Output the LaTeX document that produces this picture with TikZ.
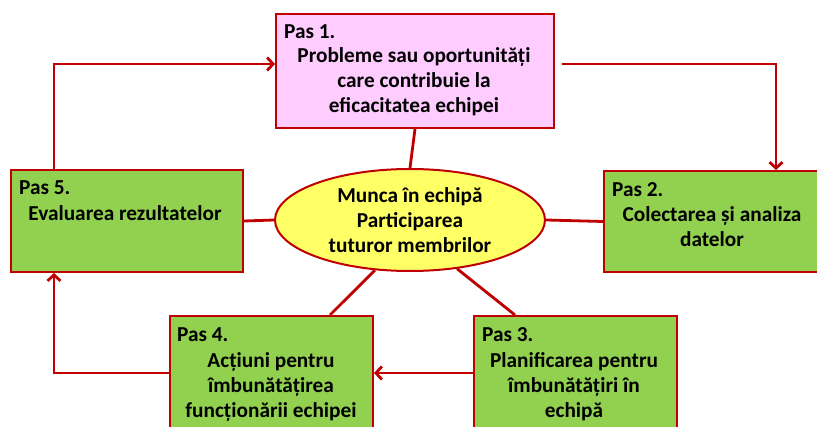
\documentclass[tikz,border=0pt]{standalone}
\usepackage{fontspec}
\setmainfont{Carlito}
\usetikzlibrary{shapes.geometric,arrows.meta,calc}
\definecolor{dred}{HTML}{C00000}
\definecolor{lgreen}{HTML}{92D050}
\definecolor{lpink}{HTML}{FFCCFF}
\definecolor{lyellow}{HTML}{FFFF66}
\tikzset{
  boxstyle/.style={draw=dred, line width=2pt, rectangle, anchor=north west, inner sep=0pt},
  greenbox/.style={boxstyle, fill=lgreen},
  pinkbox/.style={boxstyle, fill=lpink},
  txt/.style={font=\fontsize{21.3}{25}\selectfont\bfseries, text=black, align=center, inner sep=0pt},
  ttl/.style={txt, anchor=west},
  conn/.style={draw=dred, line width=2.8pt},
  arr/.style={conn, -{Straight Barb[length=6pt,width=13pt]}},
}
\begin{document}
\begin{tikzpicture}[x=1pt,y=-1pt]
\clip (0,0) rectangle (817,427);
\fill[white] (0,0) rectangle (817,427);
% boxes
\node[pinkbox, minimum width=278pt, minimum height=114pt] (p1) at (275,13) {};
\node[greenbox, minimum width=232pt, minimum height=102pt] (p5) at (10,169) {};
\node[greenbox, minimum width=230pt, minimum height=101pt] (p2) at (603,170) {};
\node[greenbox, minimum width=203pt, minimum height=130pt] (p4) at (169,315) {};
\node[greenbox, minimum width=203pt, minimum height=130pt] (p3) at (473,315) {};
\node[ellipse, draw=dred, line width=2pt, fill=lyellow, minimum width=270pt, minimum height=102pt, inner sep=0pt] (el) at (410,220) {};
% texts
\node[ttl] (t1a) at (284,32) {Pas 1.};
\node[txt] (t1b) at (414,82) {Probleme sau oportunități\\care contribuie la\\eficacitatea echipei};
\node[ttl] (t5a) at (19,188) {Pas 5.};
\node[txt] (t5b) at (125,213) {Evaluarea rezultatelor};
\node[ttl] (t2a) at (612,190) {Pas 2.};
\node[txt] (t2b) at (712,227) {Colectarea și analiza\\datelor};
\node[ttl] (t4a) at (177,335) {Pas 4.};
\node[txt] (t4b) at (271,387) {Acțiuni pentru\\îmbunătățirea\\funcționării echipei};
\node[ttl] (t3a) at (482,335) {Pas 3.};
\node[txt] (t3b) at (574,387) {Planificarea pentru\\îmbunătățiri în\\echipă};
\node[txt] (tc) at (410,220) {Munca în echipă\\Participarea\\tuturor membrilor};
% connectors to centre
\draw[conn] (p1.south) -- (el.north);
\draw[conn] (el.west) -- (p5.east);
\draw[conn] (el.east) -- (p2.west);
\draw[conn] (el.235) -- ($(p4.north west)+(161,0)$);
\draw[conn] (el.314) -- ($(p3.north west)+(42,0)$);
% cycle arrows
\coordinate (a1) at (54,64);
\coordinate (a2) at (776,64);
\coordinate (a3) at (54,373);
\draw[arr] (p5.north -| a1) -- (a1) -- (a1 -| p1.west);
\draw[arr, shorten <=7pt] (a2 -| p1.east) -- (a2) -- (a2 |- p2.north);
\draw[arr] (p3.west |- a3) -- (p4.east |- a3);
\draw[arr] (p4.west |- a3) -- (a3) -- (a3 |- p5.south);
\end{tikzpicture}
\end{document}
